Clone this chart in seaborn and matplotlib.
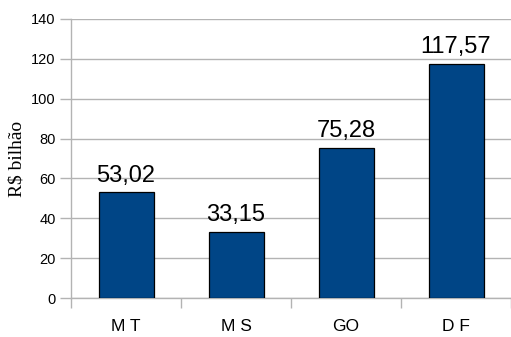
import matplotlib
matplotlib.use("Agg")
import matplotlib.pyplot as plt
import seaborn as sns
import pandas as pd
from matplotlib.ticker import FixedLocator

# Regional figures, R$ billion
states = ["M T", "M S", "GO", "D F"]
values = [53.02, 33.15, 75.28, 117.57]
value_labels = ["53,02", "33,15", "75,28", "117,57"]
y_ticks = [0, 20, 40, 60, 80, 100, 120, 140]

sns.set_theme(style="white")
plt.rcParams["font.family"] = ["Liberation Sans", "DejaVu Sans"]

df = pd.DataFrame({"estado": states, "valor": values})

fig = plt.figure(figsize=(5.11, 3.37), dpi=100)
ax = fig.add_axes([71 / 511, 1 - 298 / 337, 440 / 511, 279 / 337])

grid_color = "#b3b3b3"
sns.barplot(data=df, x="estado", y="valor", color="#004586", width=0.5,
            edgecolor="black", linewidth=0.9, saturation=1, ax=ax, zorder=3)

ax.set_ylim(0, 140)
ax.set_xlim(-0.5, 3.5)
ax.set_yticks(y_ticks)
ax.set_yticklabels([str(t) for t in y_ticks], fontsize=10.5, color="black")
ax.yaxis.grid(True, color=grid_color, linewidth=1)
ax.set_axisbelow(True)

# category boundary ticks below the axis, labels centred without ticks
ax.xaxis.set_minor_locator(FixedLocator([-0.5, 0.5, 1.5, 2.5, 3.5]))
ax.tick_params(axis="x", which="major", length=0, pad=15, labelsize=12.5,
               labelcolor="black")
ax.tick_params(axis="x", which="minor", length=7.5, width=1, color=grid_color,
               direction="out", bottom=True)
ax.tick_params(axis="y", which="major", length=8, width=1, color=grid_color,
               direction="out", left=True, pad=3)

for side in ("top", "right"):
    ax.spines[side].set_visible(False)
for side in ("left", "bottom"):
    ax.spines[side].set_color(grid_color)
    ax.spines[side].set_linewidth(1)

ax.set_xlabel("")
ax.set_ylabel("R$ bilhão", family=["Liberation Serif", "DejaVu Serif"],
              fontsize=14, color="black", labelpad=4)

ax.bar_label(ax.containers[0], labels=value_labels, padding=4, fontsize=17,
             color="black")

fig.savefig("out.png", dpi=100)
